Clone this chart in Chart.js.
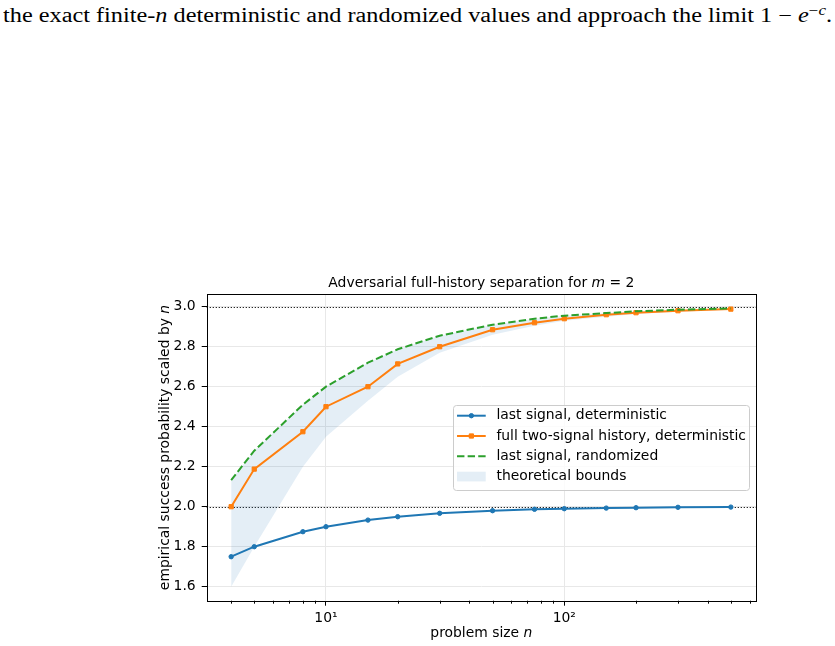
<!DOCTYPE html>
<html>
<head>
<meta charset="utf-8">
<script src="https://cdn.jsdelivr.net/npm/chart.js@4.4.1/dist/chart.umd.min.js"></script>
<style>
  html, body { margin: 0; padding: 0; background: #fff; }
  .page { position: relative; width: 835px; height: 646px; overflow: hidden; }
  .caption { position: absolute; left: 3px; top: 5px; font-family: "Liberation Serif", "DejaVu Serif", serif; font-size: 20px; line-height: 20px; white-space: nowrap; transform-origin: 0 0; color: #000; }
  .caption sup { font-size: 70%; line-height: 0; vertical-align: 0.5em; }
  canvas { position: absolute; left: 0; top: 0; }
</style>
</head>
<body>
<div class="page">
  <div class="caption" id="caption">the exact finite-<i>n</i> deterministic and randomized values and approach the limit 1 &minus; <i>e</i><sup>&minus;<i>c</i></sup>.</div>
  <canvas id="chart" width="835" height="646"></canvas>
</div>
<script>
// values
const nValues = [4, 5, 8, 10, 15, 20, 30, 50, 75, 100, 150, 200, 300, 500];
const lastSignalDet = [1.75, 1.80, 1.875, 1.90, 1.933, 1.95, 1.967, 1.98, 1.987, 1.99, 1.993, 1.995, 1.997, 1.998];
const fullHistoryDet = [2.0, 2.188, 2.375, 2.50, 2.60, 2.714, 2.80, 2.885, 2.92, 2.94, 2.96, 2.97, 2.98, 2.988];
const lastSignalRand = [2.133, 2.28, 2.51, 2.60, 2.72, 2.787, 2.855, 2.91, 2.94, 2.955, 2.968, 2.977, 2.985, 2.991];
const boundLower = [1.60, 1.80, 2.20, 2.35, 2.53, 2.65, 2.77, 2.86, 2.905, 2.93, 2.95, 2.963, 2.975, 2.985];
const boundUpper = lastSignalRand;

const yTicks = [1.6, 1.8, 2.0, 2.2, 2.4, 2.6, 2.8, 3.0];
const xMajorTicks = [10, 100];
const xMinorTicks = [4, 5, 6, 7, 8, 9, 20, 30, 40, 50, 60, 70, 80, 90, 200, 300, 400, 500, 600];
const refLevels = [2.0, 3.0];

const C0 = "#1f77b4", C1 = "#ff7f0e", C2 = "#2ca02c";
const bandColor = "rgba(31, 119, 180, 0.12)";
const FONT = "'DejaVu Sans', sans-serif";
const FS = 13.9;

const pts = ys => nValues.map((n, i) => ({ x: n, y: ys[i] }));
const sup = { "0": "\u2070", "1": "\u00b9", "2": "\u00b2", "3": "\u00b3" };

// caption line above the figure: stretch to the text block width
const cap = document.getElementById("caption");
const capW = cap.getBoundingClientRect().width;
cap.style.transform = "scaleX(" + (829 / capW) + ")";

// text with italic pieces, centred on (cx, cy)
function drawRich(ctx, parts, cx, cy, rotate) {
  ctx.save();
  ctx.translate(cx, cy);
  if (rotate) ctx.rotate(-Math.PI / 2);
  ctx.textBaseline = "middle";
  ctx.textAlign = "left";
  ctx.fillStyle = "#000";
  const fonts = parts.map(p => (p[1] ? "italic " : "") + FS + "px " + FONT);
  let total = 0;
  const widths = parts.map((p, i) => {
    ctx.font = fonts[i];
    const w = ctx.measureText(p[0]).width;
    total += w;
    return w;
  });
  let x = -total / 2;
  parts.forEach((p, i) => {
    ctx.font = fonts[i];
    ctx.fillText(p[0], x, 0);
    x += widths[i];
  });
  ctx.restore();
}

const axisText = {
  id: "axisText",
  afterDraw(chart) {
    const { ctx, chartArea: a } = chart;
    const cx = (a.left + a.right) / 2;
    const cy = (a.top + a.bottom) / 2;
    drawRich(ctx, [["Adversarial full-history separation for ", false], ["m", true], [" = 2", false]], cx, a.top - 10.5);
    drawRich(ctx, [["problem size ", false], ["n", true]], cx, a.bottom + 33);
    drawRich(ctx, [["empirical success probability scaled by ", false], ["n", true]], a.left - 41, cy, true);
  }
};

const axesExtras = {
  id: "axesExtras",
  beforeDatasetsDraw(chart) {
    const { ctx, chartArea: a, scales: { y } } = chart;
    ctx.save();
    ctx.strokeStyle = "#111";
    ctx.lineWidth = 1.2;
    ctx.setLineDash([1.2, 1.8]);
    refLevels.forEach(v => {
      const py = Math.round(y.getPixelForValue(v)) + 0.5;
      ctx.beginPath();
      ctx.moveTo(a.left, py);
      ctx.lineTo(a.right, py);
      ctx.stroke();
    });
    ctx.restore();
  },
  afterDraw(chart) {
    const { ctx, chartArea: a, scales: { x } } = chart;
    ctx.save();
    ctx.strokeStyle = "#000";
    ctx.lineWidth = 1;
    xMinorTicks.forEach(v => {
      if (v < x.min || v > x.max) return;
      const px = Math.round(x.getPixelForValue(v)) + 0.5;
      ctx.beginPath();
      ctx.moveTo(px, a.bottom);
      ctx.lineTo(px, a.bottom + 3);
      ctx.stroke();
    });
    ctx.strokeRect(Math.round(a.left) + 0.5, Math.round(a.top) + 0.5,
      Math.round(a.right) - Math.round(a.left), Math.round(a.bottom) - Math.round(a.top));
    ctx.restore();
  }
};

const boxLegend = {
  id: "boxLegend",
  afterDraw(chart) {
    const { ctx, chartArea: a } = chart;
    const items = chart.data.datasets.filter(d => d.legendRank).sort((p, q) => p.legendRank - q.legendRank);
    ctx.save();
    ctx.font = FS + "px " + FONT;
    const textW = Math.max(...items.map(d => ctx.measureText(d.label).width));
    const pad = 4, handleW = 28.7, gap = 10.7, rowH = 20.3;
    const boxW = pad + handleW + gap + textW + 3;
    const boxH = 85;
    const right = a.right - 7;
    const left = right - boxW;
    const top = (a.top + a.bottom) / 2 - boxH / 2;
    ctx.fillStyle = "rgba(255,255,255,0.8)";
    ctx.strokeStyle = "#cccccc";
    ctx.lineWidth = 1;
    ctx.beginPath();
    ctx.roundRect(Math.round(left) + 0.5, Math.round(top) + 0.5, Math.round(boxW), boxH, 3);
    ctx.fill();
    ctx.stroke();
    items.forEach((d, i) => {
      const cy = top + 10.7 + i * rowH;
      const hx = left + pad;
      if (d.fill) {
        ctx.fillStyle = d.backgroundColor;
        ctx.fillRect(hx, cy - 4.9, handleW, 9.7);
      } else {
        ctx.strokeStyle = d.borderColor;
        ctx.lineWidth = d.borderWidth;
        ctx.setLineDash(d.borderDash || []);
        ctx.beginPath();
        ctx.moveTo(hx, cy);
        ctx.lineTo(hx + handleW, cy);
        ctx.stroke();
        ctx.setLineDash([]);
        if (d.pointRadius > 0) {
          ctx.fillStyle = d.borderColor;
          ctx.lineWidth = 1;
          Chart.helpers.drawPoint(ctx, { pointStyle: d.pointStyle, radius: d.pointRadius, borderWidth: 1, rotation: 0 }, hx + handleW / 2, cy);
        }
      }
      ctx.fillStyle = "#000";
      ctx.textBaseline = "middle";
      ctx.textAlign = "left";
      ctx.fillText(d.label, hx + handleW + gap, cy);
    });
    ctx.restore();
  }
};

new Chart(document.getElementById("chart"), {
  type: "line",
  data: {
    datasets: [
      {
        label: "last signal, randomized",
        data: pts(lastSignalRand),
        borderColor: C2,
        backgroundColor: C2,
        borderWidth: 2,
        borderDash: [7.4, 3.2],
        pointRadius: 0,
        order: 1,
        legendRank: 3,
      },
      {
        label: "full two-signal history, deterministic",
        data: pts(fullHistoryDet),
        borderColor: C1,
        backgroundColor: C1,
        borderWidth: 2,
        pointStyle: "rect",
        pointRadius: 3,
        pointBorderWidth: 1,
        order: 2,
        legendRank: 2,
      },
      {
        label: "last signal, deterministic",
        data: pts(lastSignalDet),
        borderColor: C0,
        backgroundColor: C0,
        borderWidth: 2,
        pointStyle: "circle",
        pointRadius: 2.2,
        pointBorderWidth: 1,
        order: 3,
        legendRank: 1,
      },
      {
        label: "theoretical bounds",
        data: pts(boundUpper),
        borderColor: "transparent",
        borderWidth: 0,
        backgroundColor: bandColor,
        pointRadius: 0,
        fill: "+1",
        order: 4,
        legendRank: 4,
      },
      {
        data: pts(boundLower),
        borderColor: "transparent",
        borderWidth: 0,
        pointRadius: 0,
        order: 5,
      },
    ],
  },
  options: {
    responsive: false,
    animation: false,
    events: [],
    layout: { padding: { left: 150, top: 294.3, right: 79, bottom: 20 } },
    font: { family: FONT, size: FS },
    scales: {
      x: {
        type: "logarithmic",
        min: 3.158,
        max: 637.6,
        afterFit(scale) { scale.height = 25.3; },
        afterBuildTicks(scale) { scale.ticks = xMajorTicks.map(v => ({ value: v })); },
        border: { display: false },
        grid: { color: "#e8e8e8", lineWidth: 1, tickColor: "#000", tickLength: 5 },
        ticks: {
          color: "#000",
          font: { family: FONT, size: FS },
          padding: 4,
          maxRotation: 0,
          autoSkip: false,
          callback: v => "10" + String(Math.round(Math.log10(v))).split("").map(c => sup[c]).join(""),
        },
      },
      y: {
        type: "linear",
        min: 1.53,
        max: 3.062,
        afterFit(scale) { scale.width = 56.7; },
        afterBuildTicks(scale) { scale.ticks = yTicks.map(v => ({ value: v })); },
        border: { display: false },
        grid: { color: "#e8e8e8", lineWidth: 1, tickColor: "#000", tickLength: 5 },
        ticks: {
          color: "#000",
          font: { family: FONT, size: FS },
          padding: 6,
          callback: v => v.toFixed(1),
        },
      },
    },
    plugins: {
      legend: { display: false },
      tooltip: { enabled: false },
      title: { display: false },
    },
  },
  plugins: [axesExtras, axisText, boxLegend],
});
</script>
</body>
</html>
